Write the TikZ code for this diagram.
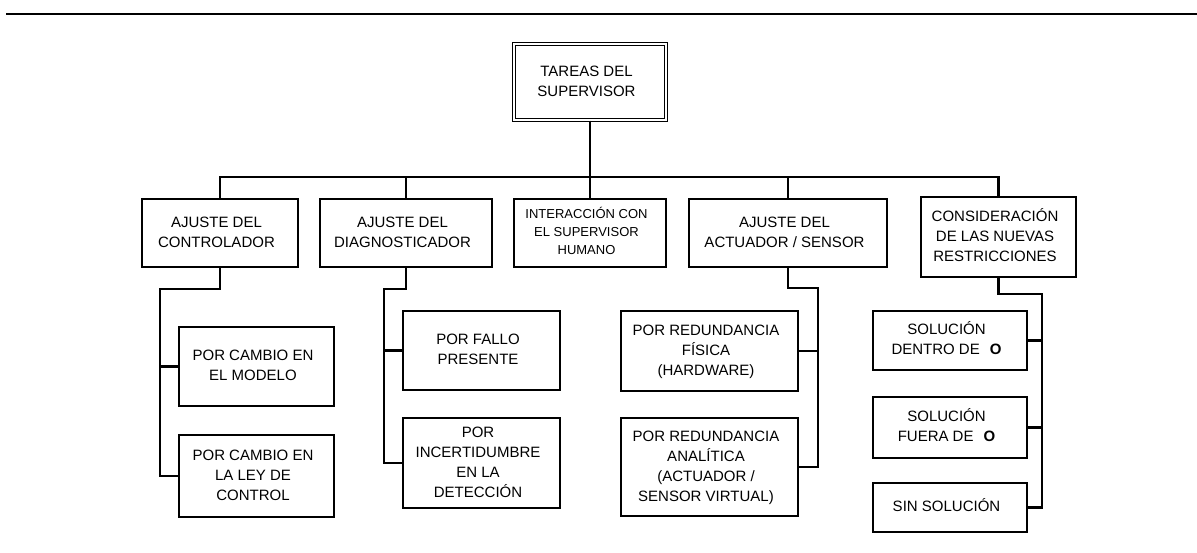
\documentclass[tikz,border=0pt]{standalone}
\usepackage{fontspec}
\setmainfont{Liberation Sans}
\newcommand{\boxtext}[1]{\begin{tabular}{@{}c@{}}#1\end{tabular}\kern7pt}
\begin{document}
\begin{tikzpicture}[x=1pt,y=-1pt,
  box/.style={draw, line width=2.3pt, rectangle, inner sep=0pt,
    font=\fontsize{15}{20}\selectfont},
  rootbox/.style={draw, double, double distance=1.5pt, line width=1.2pt,
    rectangle, inner sep=0pt, font=\fontsize{15}{20}\selectfont},
  link/.style={line width=2.3pt, line join=miter}]
\useasboundingbox (0,0) rectangle (1197,552);

% header rule
\draw[line width=2.2pt] (6,14) -- (1197,14);

% root
\node[rootbox, minimum width=152pt, minimum height=76pt] (top) at (590,82)
  {\boxtext{TAREAS DEL\\SUPERVISOR}};

% first level
\node[box, minimum width=156pt, minimum height=68pt] (b1) at (220,233)
  {\boxtext{AJUSTE DEL\\CONTROLADOR}};
\node[box, minimum width=172pt, minimum height=68pt] (b2) at (406,233)
  {\boxtext{AJUSTE DEL\\DIAGNOSTICADOR}};
\node[box, minimum width=152pt, minimum height=68pt,
  font=\fontsize{13}{17.7}\selectfont] (b3) at (590,233)
  {\boxtext{INTERACCIÓN CON\\EL SUPERVISOR\\HUMANO}};
\node[box, minimum width=198pt, minimum height=68pt] (b4) at (788,233)
  {\boxtext{AJUSTE DEL\\ACTUADOR / SENSOR}};
\node[box, minimum width=155pt, minimum height=80pt] (b5) at (998.5,237)
  {\boxtext{CONSIDERACIÓN\\DE LAS NUEVAS\\RESTRICCIONES}};

% second level
\node[box, minimum width=155pt, minimum height=79pt] (b1a) at (256.5,366.5)
  {\boxtext{POR CAMBIO EN\\EL MODELO}};
\node[box, minimum width=155pt, minimum height=82pt] (b1b) at (256.5,476)
  {\boxtext{POR CAMBIO EN\\LA LEY DE\\CONTROL}};
\node[box, minimum width=157pt, minimum height=79pt] (b2a) at (481.5,350.5)
  {\boxtext{POR FALLO\\PRESENTE}};
\node[box, minimum width=157pt, minimum height=90pt] (b2b) at (481.5,463)
  {\boxtext{POR\\INCERTIDUMBRE\\EN LA\\DETECCIÓN}};
\node[box, minimum width=177pt, minimum height=80pt] (b4a) at (709.5,351)
  {\boxtext{POR REDUNDANCIA\\FÍSICA\\(HARDWARE)}};
\node[box, minimum width=177pt, minimum height=98pt] (b4b) at (709.5,467)
  {\boxtext{POR REDUNDANCIA\\ANALÍTICA\\(ACTUADOR /\\SENSOR VIRTUAL)}};
\node[box, minimum width=154pt, minimum height=59pt] (b5a) at (950,340.5)
  {\boxtext{SOLUCIÓN\\DENTRO DE\hspace{10pt}\textbf{O}}};
\node[box, minimum width=154pt, minimum height=61pt] (b5b) at (950,427.5)
  {\boxtext{SOLUCIÓN\\FUERA DE\hspace{10pt}\textbf{O}}};
\node[box, minimum width=154pt, minimum height=49pt] (b5c) at (950,507.5)
  {\boxtext{SIN SOLUCIÓN}};

% bus from the root to the first level
\coordinate (bus) at (0,177);
\draw[link] (top.south) -- (b3.north);
\draw[link] (b1.north) |- (b5.north |- bus) -- (b5.north);
\draw[link] (b2.north) -- (b2.north |- bus);
\draw[link] (b4.north) -- (b4.north |- bus);

% controller branch
\coordinate (s1) at (160,289);
\draw[link] (b1.south) |- (s1) |- (b1b.west);
\draw[link] (s1 |- b1a.west) -- (b1a.west);

% diagnoser branch
\coordinate (s2) at (384,289);
\draw[link] (b2.south) |- (s2) |- (b2b.west);
\draw[link] (s2 |- b2a.west) -- (b2a.west);

% actuator / sensor branch
\coordinate (s4) at (818,288);
\draw[link] (b4.south) |- (s4) |- (b4b.east);
\draw[link] (s4 |- b4a.east) -- (b4a.east);

% constraints branch
\coordinate (s5) at (1042,294);
\draw[link] (b5.south) |- (s5) |- (b5c.east);
\draw[link] (s5 |- b5a.east) -- (b5a.east);
\draw[link] (s5 |- b5b.east) -- (b5b.east);
\end{tikzpicture}
\end{document}
